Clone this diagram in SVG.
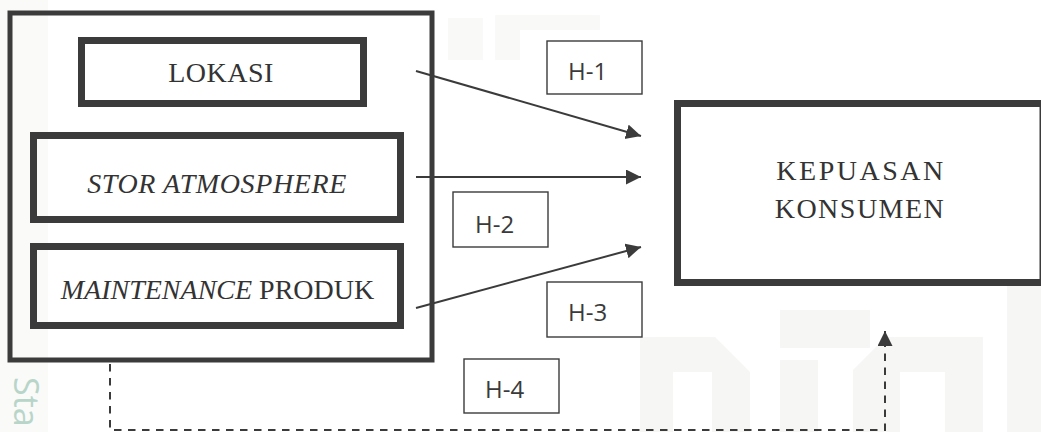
<svg xmlns="http://www.w3.org/2000/svg" width="1041" height="432" viewBox="0 0 1041 432">
<style>
.wm{fill:#f6f6f4;stroke:none}
.box{fill:none;stroke:#3b3b3b}
.lbl{fill:#ffffff;stroke:#3b3b3b;stroke-width:1.4}
.serif{font-family:"Liberation Serif","Times New Roman",serif;font-size:28px;fill:#333333}
.sans{font-family:"Open Sans","Noto Sans",sans-serif;font-size:24px;fill:#3a3a3a}
.conn{stroke:#3b3b3b;stroke-width:2;fill:none}
.dash{stroke:#3b3b3b;stroke-width:2;fill:none;stroke-dasharray:7.5 6.5}
</style>
<defs>
<marker id="arr" markerUnits="userSpaceOnUse" markerWidth="16" markerHeight="16" refX="15" refY="7.5" orient="auto">
<path d="M0,0 L15,7.5 L0,15 z" fill="#3b3b3b"/>
</marker>
</defs>
<rect width="1041" height="432" fill="#ffffff"/>
<g id="watermark">
<rect class="wm" x="0" y="0" width="48" height="432" opacity="0.5"/>
<polygon class="wm" points="640,337 715,337 750,372 750,432 712,432 712,372 673,372 673,432 640,432"/>
<rect class="wm" x="780" y="360" width="38" height="72"/>
<rect class="wm" x="780" y="310" width="90" height="38"/>
<polygon class="wm" points="853,370 886,337 983,337 983,432 945,432 945,372 900,372 900,432 853,432"/>
<rect class="wm" x="1007" y="280" width="34" height="152"/>
<rect class="wm" x="448" y="18" width="35" height="42" opacity="0.7"/>
<polygon class="wm" points="495,60 495,15 600,15 600,30 520,30 520,60" opacity="0.7"/>
<text x="14" y="377" transform="rotate(90 14 377)" font-family="'Open Sans','Noto Sans',sans-serif" font-size="34" fill="#b8d5c9">Sta</text>
</g>
<g id="connectors">
<line class="conn" x1="416" y1="71" x2="641" y2="136" marker-end="url(#arr)"/>
<line class="conn" x1="416" y1="177" x2="641" y2="177" marker-end="url(#arr)"/>
<line class="conn" x1="416" y1="308" x2="641" y2="247" marker-end="url(#arr)"/>
<path class="dash" d="M110,364 V430 H885 V331" marker-end="url(#arr)"/>
</g>
<g id="group-box">
<rect class="box" x="10" y="13" width="422" height="347" stroke-width="5"/>
</g>
<g id="lokasi">
<rect class="box" x="81.5" y="40.5" width="282" height="63" stroke-width="7"/>
<text class="serif" x="221" y="82" text-anchor="middle" letter-spacing="0.5">LOKASI</text>
</g>
<g id="stor-atmosphere">
<rect class="box" x="33.5" y="135.5" width="367" height="84" stroke-width="7"/>
<text class="serif" x="217" y="193" text-anchor="middle" font-style="italic" letter-spacing="0.6">STOR ATMOSPHERE</text>
</g>
<g id="maintenance-produk">
<rect class="box" x="33.5" y="246.5" width="367" height="79" stroke-width="7"/>
<text class="serif" x="217.5" y="299" text-anchor="middle" font-size="27"><tspan font-style="italic">MAINTENANCE</tspan> PRODUK</text>
</g>
<g id="kepuasan-konsumen">
<rect class="box" x="677.5" y="103.5" width="365.5" height="179" stroke-width="7"/>
<text class="serif" x="861" y="180" text-anchor="middle" letter-spacing="2.5">KEPUASAN</text>
<text class="serif" x="860" y="218" text-anchor="middle" letter-spacing="1.5">KONSUMEN</text>
</g>
<g id="h1">
<rect class="lbl" x="547" y="41" width="95" height="53"/>
<text class="sans" x="568" y="80">H-1</text>
</g>
<g id="h2">
<rect class="lbl" x="453" y="192" width="95" height="55"/>
<text class="sans" x="475" y="233">H-2</text>
</g>
<g id="h3">
<rect class="lbl" x="547" y="282" width="95" height="55"/>
<text class="sans" x="568" y="321">H-3</text>
</g>
<g id="h4">
<rect class="lbl" x="464" y="359" width="95" height="54"/>
<text class="sans" x="485" y="398">H-4</text>
</g>
</svg>
